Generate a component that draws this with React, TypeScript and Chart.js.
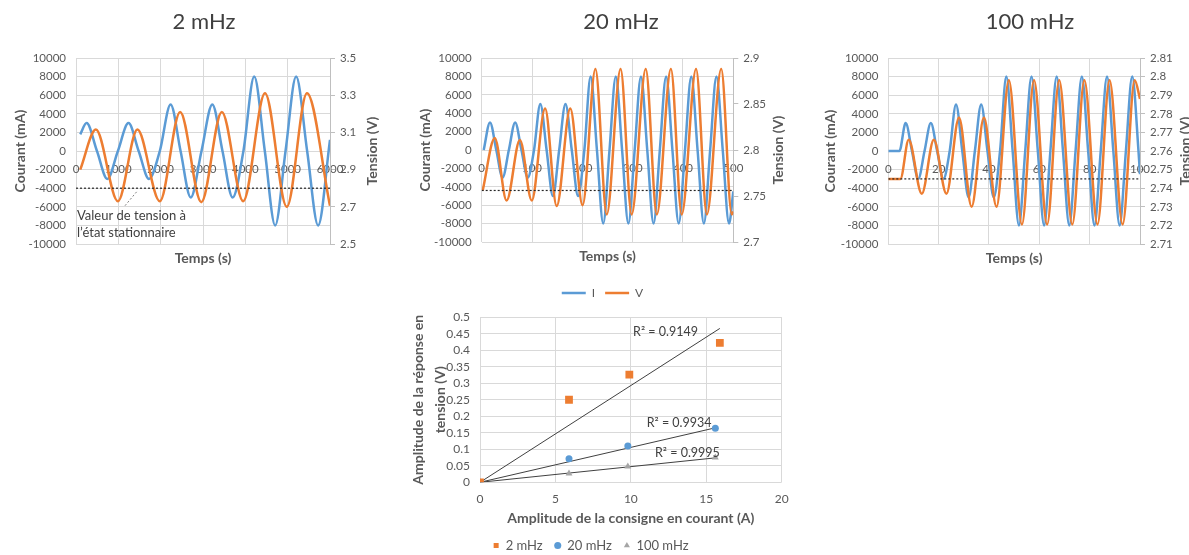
import React, { useEffect, useRef } from 'react';
import { Chart, registerables } from 'chart.js';

Chart.register(...registerables);

const FONT = 'Lato, "Open Sans", "Liberation Sans", sans-serif';
const TEXT = '#595959';
const DARK = '#404040';
const GRID = '#D9D9D9';
const AXIS = '#BFBFBF';
const BLUE = '#5B9BD5';
const ORANGE = '#ED7D31';
const GRAY = '#A5A5A5';

// ---------------- data ----------------
const chartTitles = ['2 mHz', '20 mHz', '100 mHz'];
const steadyVoltage = [2.8, 2.756, 2.745];

// 2 mHz : time (s), current (mA), voltage (V)
const time2_I = [100, 250, 495, 740, 990, 1240, 1480, 1725, 1980, 2235, 2470, 2710, 2965, 3220, 3460, 3700, 3955, 4210, 4460, 4705, 4950, 5200, 5460, 5720, 6000];
const current2 = [1800, 3000, 0, -3000, 0, 3000, 0, -3000, 0, 5000, 0, -5000, 0, 5000, 0, -5000, 0, 8000, 0, -8000, 0, 8000, 0, -8000, 1200];
const time2_V = [100, 470, 990, 1450, 1980, 2460, 2960, 3445, 3950, 4465, 4980, 5455, 6000];
const voltage2 = [2.9, 3.115, 2.73, 3.115, 2.73, 3.21, 2.725, 3.21, 2.73, 3.31, 2.7, 3.31, 2.705];

// 20 mHz
const time20_I = [4, 16.5, 29, 41.5, 54, 66.5, 79, 91.5, 104, 116.5, 129, 141.5, 154, 166.5, 179, 191.5, 204, 216.5, 229, 241.5, 254, 266.5, 279, 291.5, 304, 316.5, 329, 341.5, 354, 366.5, 379, 391.5, 404, 416.5, 429, 441.5, 454, 466.5, 479, 491.5, 500];
const current20 = [0,
  3000, 0, -3000, 0,
  3000, 0, -3000, 0,
  5000, 0, -5000, 0,
  5000, 0, -5000, 0,
  8000, 0, -8000, 0,
  8000, 0, -8000, 0,
  8000, 0, -8000, 0,
  8000, 0, -8000, 0,
  8000, 0, -8000, 0,
  8000, 0, -8000, -4500];
const time20_V = [2, 26, 49.5, 76, 99.5, 126, 149, 176, 200.5, 226, 248.5, 276, 298, 326, 348, 376, 397.5, 426, 447.5, 476, 497, 500];
const voltage20 = [2.756, 2.813, 2.745, 2.811, 2.745, 2.845, 2.739, 2.845, 2.74, 2.888, 2.73, 2.888, 2.73, 2.888, 2.73, 2.888, 2.73, 2.888, 2.73, 2.888, 2.73, 2.733];

// 100 mHz
const time100_I = [0, 4.4, 6.9, 9.4, 11.9, 14.4, 16.9, 19.4, 21.9, 24.4, 26.9, 29.4, 31.9, 34.4, 36.9, 39.4, 41.9, 44.4, 46.9, 49.4, 51.9, 54.4, 56.9, 59.4, 61.9, 64.4, 66.9, 69.4, 71.9, 74.4, 76.9, 79.4, 81.9, 84.4, 86.9, 89.4, 91.9, 94.4, 96.9, 99.4, 100];
const current100 = [0, 0,
  3000, 0, -3000, 0,
  3000, 0, -3000, 0,
  5000, 0, -5000, 0,
  5000, 0, -5000, 0,
  8000, 0, -8000, 0,
  8000, 0, -8000, 0,
  8000, 0, -8000, 0,
  8000, 0, -8000, 0,
  8000, 0, -8000, 0,
  8000, 0, -2500];
const time100_V = [0, 4.8, 8.1, 13.3, 18.1, 23.1, 28.1, 33.1, 38.0, 43.0, 47.9, 53.1, 57.9, 63.1, 67.9, 73.1, 77.9, 83.1, 87.9, 93.1, 97.9, 100];
const voltage100 = [2.745, 2.745, 2.766, 2.737, 2.766, 2.737, 2.778, 2.73, 2.778, 2.73, 2.798, 2.7205, 2.798, 2.7205, 2.798, 2.7205, 2.798, 2.7205, 2.798, 2.7205, 2.798, 2.788];

// Amplitude plot
const ampSeries = ['2 mHz', '20 mHz', '100 mHz'];
const ampI_2 = [0, 5.9, 9.9, 15.9];
const ampV_2 = [0, 0.25, 0.326, 0.422];
const ampI_20 = [0, 5.9, 9.8, 15.6];
const ampV_20 = [0, 0.071, 0.11, 0.164];
const ampI_100 = [0, 5.9, 9.8, 15.6];
const ampV_100 = [0, 0.027, 0.048, 0.075];
const trendI_2 = [0, 15.9];
const trendV_2 = [0, 0.466];
const trendI_20 = [0, 15.6];
const trendV_20 = [0, 0.165];
const trendI_100 = [0, 15.6];
const trendV_100 = [0, 0.074];
const r2Labels = ['R² = 0.9149', 'R² = 0.9934', 'R² = 0.9995'];

// ---------------- helpers ----------------
const zip = (xs: number[], ys: number[]) => xs.map((x, i) => ({ x, y: ys[i] }));
const fmt = (v: any) => String(Number(Number(v).toFixed(3)));
const font = (size: number, weight: any = 'normal', lineHeight = 1.2) => ({ family: FONT, size, weight, lineHeight });

type Item = any;

function overlay(items: Item[]) {
  return {
    id: 'overlay',
    afterDraw(chart: any) {
      const { ctx, chartArea, scales } = chart;
      ctx.save();
      for (const it of items) {
        ctx.fillStyle = it.color || TEXT;
        ctx.strokeStyle = it.color || TEXT;
        ctx.font = `${it.weight || 'normal'} ${it.size || 12}px ${FONT}`;
        if (it.kind === 'text') {
          ctx.textAlign = 'center';
          ctx.textBaseline = 'middle';
          ctx.fillText(it.text, it.x, it.y);
        } else if (it.kind === 'rtitle') {
          ctx.save();
          ctx.translate(chartArea.right + it.dx, (chartArea.top + chartArea.bottom) / 2);
          ctx.rotate(-Math.PI / 2);
          ctx.textAlign = 'center';
          ctx.textBaseline = 'middle';
          ctx.fillText(it.text, 0, 0);
          ctx.restore();
        } else if (it.kind === 'dtext') {
          const x = scales[it.xs].getPixelForValue(it.xv) + (it.dx || 0);
          const y = scales[it.ys].getPixelForValue(it.yv);
          ctx.textAlign = 'left';
          ctx.textBaseline = 'middle';
          ctx.fillText(it.text, x, y);
        } else if (it.kind === 'dline') {
          ctx.lineWidth = it.width || 1;
          ctx.setLineDash(it.dash || []);
          ctx.beginPath();
          ctx.moveTo(scales[it.xs].getPixelForValue(it.x1), scales[it.ys].getPixelForValue(it.y1));
          ctx.lineTo(scales[it.xs].getPixelForValue(it.x2), scales[it.ys].getPixelForValue(it.y2));
          ctx.stroke();
          ctx.setLineDash([]);
        }
      }
      ctx.restore();
    },
  };
}

function topConfig(s: any): any {
  const items: Item[] = [
    { kind: 'text', text: s.title, x: s.titleX, y: 22, size: 22, color: DARK },
    { kind: 'rtitle', text: 'Tension (V)', dx: s.rightTitleDx, size: 14, weight: 'bold', color: TEXT },
    ...(s.extras || []),
  ];
  return {
    type: 'line',
    data: {
      datasets: [
        { label: 'I', data: zip(s.tI, s.I), xAxisID: 'x', yAxisID: 'y', borderColor: BLUE, backgroundColor: BLUE, borderWidth: 2.5, pointRadius: 0, cubicInterpolationMode: 'monotone', order: 2 },
        { label: 'V', data: zip(s.tV, s.V), xAxisID: 'x', yAxisID: 'y1', borderColor: ORANGE, backgroundColor: ORANGE, borderWidth: 2.5, pointRadius: 0, cubicInterpolationMode: 'monotone', order: 1 },
        { label: 'steady', data: zip([0, s.xMax], [s.steady, s.steady]), xAxisID: 'x', yAxisID: 'y1', borderColor: '#262626', borderWidth: 1.2, borderDash: [2, 2], pointRadius: 0, order: 0 },
      ],
    },
    options: {
      responsive: false,
      animation: false,
      devicePixelRatio: 1,
      events: [],
      layout: { padding: { top: 58, left: 0, right: 0, bottom: 0 } },
      plugins: {
        tooltip: { enabled: false },
        title: { display: false },
        legend: s.legend
          ? {
              display: true,
              position: 'bottom',
              labels: {
                usePointStyle: true,
                pointStyle: 'line',
                pointStyleWidth: 24,
                padding: 10,
                color: TEXT,
                font: font(12),
                filter: (it: any) => it.datasetIndex < 2,
                sort: (a: any, b: any) => a.datasetIndex - b.datasetIndex,
              },
            }
          : { display: false },
      },
      scales: {
        x: {
          type: 'linear', position: 'bottom', min: 0, max: s.xMax,
          ticks: { display: false, stepSize: s.xStep },
          grid: { color: GRID, drawTicks: false },
          border: { display: false },
          title: { display: true, text: 'Temps (s)', color: TEXT, font: font(14, 'bold'), padding: { top: 0, bottom: s.xTitlePad } },
          afterFit: (sc: any) => { sc.height = s.bottomH; },
        },
        xl: {
          type: 'linear', axis: 'x', position: { y: 0 }, min: 0, max: s.xMax,
          ticks: { stepSize: s.xStep, color: TEXT, font: font(11.5), padding: 11, autoSkip: false, maxRotation: 0, callback: (v: any) => String(v) },
          grid: { display: false, drawTicks: false },
          border: { display: false },
          afterFit: (sc: any) => { sc.height = 0; },
        },
        y: {
          type: 'linear', position: 'left', min: -10000, max: 10000,
          ticks: { stepSize: 2000, color: TEXT, font: font(11.5), padding: 10, autoSkip: false, callback: (v: any) => String(v) },
          grid: { color: GRID, drawTicks: false },
          border: { display: false },
          title: { display: true, text: 'Courant (mA)', color: TEXT, font: font(14, 'bold'), padding: { top: 11.6, bottom: 0 } },
          afterFit: (sc: any) => { sc.width = s.leftW; },
        },
        y1: {
          type: 'linear', position: 'right', min: s.vMin, max: s.vMax,
          ticks: { stepSize: s.vStep, color: TEXT, font: font(11.5), padding: 5, autoSkip: false, callback: fmt },
          grid: { drawOnChartArea: false, color: AXIS, tickLength: 5, drawTicks: true },
          border: { display: true, color: AXIS },
          afterFit: (sc: any) => { sc.width = s.rightW; },
        },
      },
    },
    plugins: [overlay(items)],
  };
}

const spec2 = {
  title: chartTitles[0], titleX: 204, tI: time2_I, I: current2, tV: time2_V, V: voltage2, steady: steadyVoltage[0],
  xMax: 6000, xStep: 1000, vMin: 2.5, vMax: 3.5, vStep: 0.2,
  leftW: 76, rightW: 60, bottomH: 27, xTitlePad: 4, rightTitleDx: 42, legend: false,
  extras: [
    { kind: 'dtext', text: 'Valeur de tension à', xv: 0, yv: 2.6505, xs: 'x', ys: 'y1', dx: 1, size: 13, color: DARK },
    { kind: 'dtext', text: 'l’état stationnaire', xv: 0, yv: 2.5575, xs: 'x', ys: 'y1', dx: 1, size: 13, color: DARK },
    { kind: 'dline', x1: 1158, y1: 2.706, x2: 1434, y2: 2.781, xs: 'x', ys: 'y1', color: '#7F7F7F', dash: [2, 2], width: 1 },
  ],
};

const spec20 = {
  title: chartTitles[1], titleX: 216, tI: time20_I, I: current20, tV: time20_V, V: voltage20, steady: steadyVoltage[1],
  xMax: 500, xStep: 100, vMin: 2.7, vMax: 2.9, vStep: 0.05,
  leftW: 76.7, rightW: 66.7, bottomH: 35, xTitlePad: 12.6, rightTitleDx: 44.7, legend: true,
};

const spec100 = {
  title: chartTitles[2], titleX: 220, tI: time100_I, I: current100, tV: time100_V, V: voltage100, steady: steadyVoltage[2],
  xMax: 100, xStep: 20, vMin: 2.71, vMax: 2.81, vStep: 0.01,
  leftW: 78.3, rightW: 49, bottomH: 27, xTitlePad: 4, rightTitleDx: 45, legend: false,
};

function scatterConfig(): any {
  const r2Items = [
    { kind: 'dtext', text: r2Labels[0], xv: 10.15, yv: 0.455, xs: 'x', ys: 'y', size: 12.5, color: DARK },
    { kind: 'dtext', text: r2Labels[1], xv: 11.05, yv: 0.181, xs: 'x', ys: 'y', size: 12.5, color: DARK },
    { kind: 'dtext', text: r2Labels[2], xv: 11.6, yv: 0.089, xs: 'x', ys: 'y', size: 12.5, color: DARK },
  ];
  const trend = (xs: number[], ys: number[]) => ({ label: 'trend', data: zip(xs, ys), showLine: true, pointRadius: 0, borderColor: '#404040', borderWidth: 1, order: 1 });
  return {
    type: 'scatter',
    data: {
      datasets: [
        { label: ampSeries[0], data: zip(ampI_2, ampV_2), pointStyle: 'rect', pointRadius: 5.5, backgroundColor: ORANGE, borderColor: ORANGE, borderWidth: 0, order: 0 },
        { label: ampSeries[1], data: zip(ampI_20, ampV_20), pointStyle: 'circle', pointRadius: 3.5, backgroundColor: BLUE, borderColor: BLUE, borderWidth: 0, order: 0 },
        { label: ampSeries[2], data: zip(ampI_100, ampV_100), pointStyle: 'triangle', pointRadius: 4, backgroundColor: GRAY, borderColor: GRAY, borderWidth: 0, order: 0 },
        trend(trendI_2, trendV_2),
        trend(trendI_20, trendV_20),
        trend(trendI_100, trendV_100),
      ],
    },
    options: {
      responsive: false,
      animation: false,
      devicePixelRatio: 1,
      events: [],
      layout: { padding: { top: 15, left: 0, right: 18.3, bottom: 0 } },
      plugins: {
        tooltip: { enabled: false },
        legend: {
          display: true,
          position: 'bottom',
          labels: {
            usePointStyle: true,
            boxWidth: 6,
            boxHeight: 5,
            padding: 12,
            color: TEXT,
            font: font(13),
            filter: (it: any) => it.datasetIndex < 3,
            sort: (a: any, b: any) => a.datasetIndex - b.datasetIndex,
          },
        },
      },
      scales: {
        x: {
          type: 'linear', position: 'bottom', min: 0, max: 20,
          ticks: { stepSize: 5, color: TEXT, font: font(12), padding: 10, autoSkip: false, callback: fmt },
          grid: { color: GRID, drawTicks: false },
          border: { display: false },
          title: { display: true, text: 'Amplitude de la consigne en courant (A)', color: TEXT, font: font(14, 'bold'), padding: { top: 0, bottom: 0 } },
          afterFit: (sc: any) => { sc.height = 44.7; },
        },
        y: {
          type: 'linear', position: 'left', min: 0, max: 0.5,
          ticks: { stepSize: 0.05, color: TEXT, font: font(12), padding: 10, autoSkip: false, callback: fmt },
          grid: { color: GRID, drawTicks: false },
          border: { display: false },
          title: { display: true, text: ['Amplitude de la réponse en', 'tension (V)'], color: TEXT, font: font(14, 'bold', 1.55), padding: { top: 7.5, bottom: 0 } },
          afterFit: (sc: any) => { sc.width = 80; },
        },
      },
    },
    plugins: [overlay(r2Items)],
  };
}

function ChartCanvas({ left, top, width, height, make }: any) {
  const ref = useRef<HTMLCanvasElement>(null);
  useEffect(() => {
    const chart = new Chart(ref.current as HTMLCanvasElement, make());
    return () => chart.destroy();
  }, []);
  return <canvas ref={ref} width={width} height={height} style={{ position: 'absolute', left, top, width, height }} />;
}

export default function App() {
  return (
    <div style={{ position: 'absolute', left: 0, top: 0, width: 1189, height: 555, overflow: 'hidden', background: '#ffffff' }}>
      <ChartCanvas left={0} top={0} width={390} height={271} make={() => topConfig(spec2)} />
      <ChartCanvas left={405} top={0} width={395} height={309} make={() => topConfig(spec20)} />
      <ChartCanvas left={810} top={0} width={379} height={271} make={() => topConfig(spec100)} />
      <ChartCanvas left={400} top={300} width={400} height={262} make={scatterConfig} />
    </div>
  );
}
